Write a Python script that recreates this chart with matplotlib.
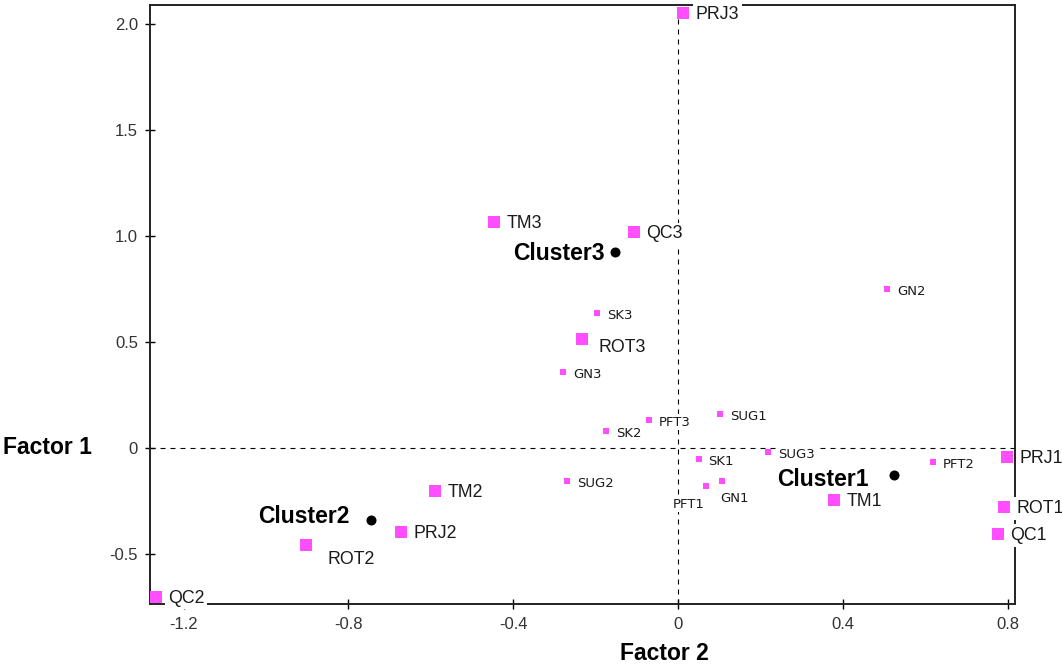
import matplotlib
matplotlib.use("Agg")
import matplotlib.pyplot as plt

# factor scores
BIG_NAMES = ["PRJ3", "TM3", "QC3", "ROT3", "TM2", "PRJ2", "ROT2", "QC2",
             "TM1", "PRJ1", "ROT1", "QC1"]
BIG_F2 = [0.013, -0.447, -0.107, -0.233, -0.590, -0.673, -0.902, -1.268,
          0.379, 0.798, 0.791, 0.777]
BIG_F1 = [2.050, 1.065, 1.017, 0.516, -0.203, -0.394, -0.458, -0.701,
          -0.245, -0.041, -0.277, -0.406]

SMALL_NAMES = ["GN2", "SK3", "GN3", "SUG1", "PFT3", "SK2", "SUG3", "SK1",
               "SUG2", "GN1", "PFT1", "PFT2"]
SMALL_F2 = [0.508, -0.196, -0.278, 0.102, -0.071, -0.174, 0.219, 0.050,
            -0.270, 0.106, 0.069, 0.618]
SMALL_F1 = [0.749, 0.637, 0.360, 0.159, 0.134, 0.082, -0.020, -0.054,
            -0.155, -0.155, -0.181, -0.068]

CLUSTER_NAMES = ["Cluster1", "Cluster2", "Cluster3"]
CLUSTER_F2 = [0.524, -0.745, -0.153]
CLUSTER_F1 = [-0.127, -0.341, 0.923]

X_TICKS = [-1.2, -0.8, -0.4, 0, 0.4, 0.8]
X_TICKLABELS = ["-1.2", "-0.8", "-0.4", "0", "0.4", "0.8"]
Y_TICKS = [-0.5, 0, 0.5, 1.0, 1.5, 2.0]
Y_TICKLABELS = ["-0.5", "0", "0.5", "1.0", "1.5", "2.0"]

# label placement (pixel offsets from the marker), layout only
BIG_OFF = {"ROT3": (16, -9, "left"), "ROT2": (21, -14, "left")}
SMALL_OFF = {"GN1": (13, -18, "center"), "PFT1": (-18, -18, "center")}
CLUSTER_OFF = {"Cluster1": (-25, -5), "Cluster2": (-22, 4), "Cluster3": (-10, -1)}

PINK = "#ff4dff"
BOX = dict(facecolor="white", edgecolor="none", pad=2.0)

fig = plt.figure(figsize=(10.62, 6.71), dpi=100)
ax = fig.add_axes([150 / 1062, 1 - 604 / 671, 865 / 1062, 599 / 671])

ax.axhline(0, color="black", lw=0.8, ls=(0, (4.5, 4.5)), zorder=1)
ax.axvline(0, color="black", lw=0.8, ls=(0, (4.5, 4.5)), zorder=1)

ax.scatter(BIG_F2, BIG_F1, s=74, marker="s", color=PINK, linewidths=0, zorder=5)
ax.scatter(SMALL_F2, SMALL_F1, s=13, marker="s", color=PINK, linewidths=0, zorder=5)
ax.scatter(CLUSTER_F2, CLUSTER_F1, s=52, marker="o", color="black", linewidths=0, zorder=5)

for name, x, y in zip(BIG_NAMES, BIG_F2, BIG_F1):
    dx, dy, ha = BIG_OFF.get(name, (12.5, -1.5, "left"))
    ax.annotate(name, (x, y), xytext=(dx, dy), textcoords="offset pixels",
                ha=ha, va="center", fontsize=12.8, family="Liberation Sans",
                color="#1a1a1a", bbox=BOX, zorder=4)

for name, x, y in zip(SMALL_NAMES, SMALL_F2, SMALL_F1):
    dx, dy, ha = SMALL_OFF.get(name, (10, -2.5, "left"))
    ax.annotate(name, (x, y), xytext=(dx, dy), textcoords="offset pixels",
                ha=ha, va="center", fontsize=9.5, family="DejaVu Sans",
                color="#1a1a1a", bbox=dict(facecolor="white", edgecolor="none", pad=1.0),
                zorder=4)

for name, x, y in zip(CLUSTER_NAMES, CLUSTER_F2, CLUSTER_F1):
    dx, dy = CLUSTER_OFF[name]
    ax.annotate(name, (x, y), xytext=(dx, dy), textcoords="offset pixels",
                ha="right", va="center", fontsize=16.5, fontweight="bold",
                family="Liberation Sans", color="black", zorder=4)

ax.set_xlim(-1.2816, 0.818)
ax.set_ylim(-0.736, 2.090)
ax.set_xticks(X_TICKS, X_TICKLABELS)
ax.set_yticks(Y_TICKS, Y_TICKLABELS)
ax.tick_params(direction="inout", length=7.2, width=1.0, color="black",
               labelcolor="#333333", labelsize=12)
ax.tick_params(axis="y", pad=5.0)
ax.tick_params(axis="x", pad=6.0)
for lab in ax.get_xticklabels() + ax.get_yticklabels():
    lab.set_family("Liberation Sans")
for sp in ax.spines.values():
    sp.set_linewidth(1.4)
    sp.set_color("#222222")

fig.text(3 / 1062, 1 - 447.7 / 671, "Factor 1", ha="left", va="center",
         fontsize=16.5, fontweight="bold", family="Liberation Sans")
fig.text(664 / 1062, 1 - 653 / 671, "Factor 2", ha="center", va="center",
         fontsize=16.5, fontweight="bold", family="Liberation Sans")

fig.savefig("out.png", dpi=100)
